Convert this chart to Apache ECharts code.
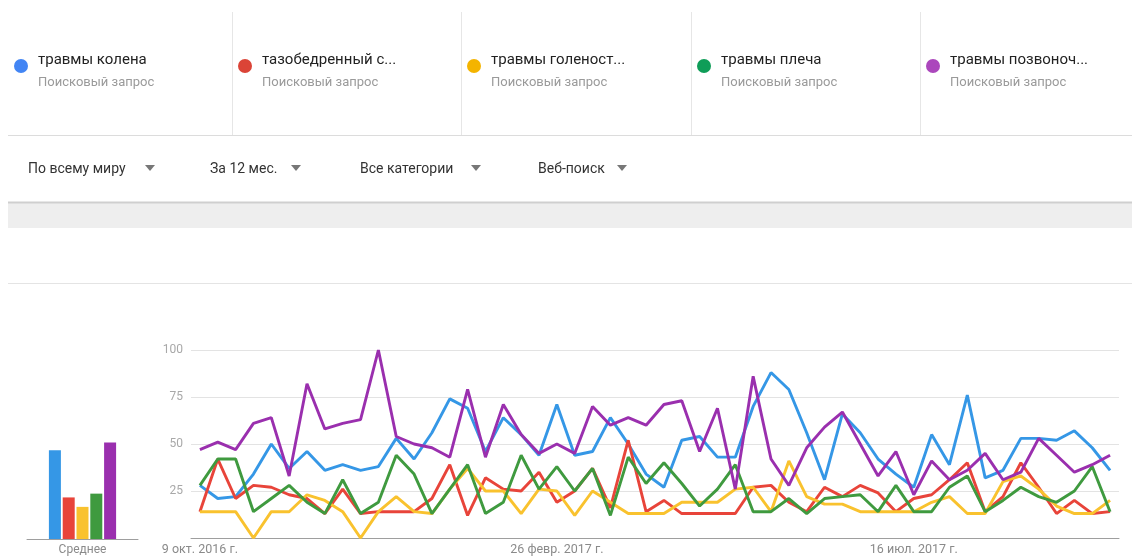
<!DOCTYPE html>
<html>
<head>
<meta charset="utf-8">
<script src="https://cdn.jsdelivr.net/npm/echarts@6/dist/echarts.min.js"></script>
<style>
html,body{margin:0;padding:0;background:#fff;}
#chart{width:1132px;height:556px;}
</style>
</head>
<body>
<div id="chart"></div>
<script>
// ---- data ----
var weeks = [
 "9 окт. 2016 г.","16 окт. 2016 г.","23 окт. 2016 г.","30 окт. 2016 г.",
 "6 нояб. 2016 г.","13 нояб. 2016 г.","20 нояб. 2016 г.","27 нояб. 2016 г.",
 "4 дек. 2016 г.","11 дек. 2016 г.","18 дек. 2016 г.","25 дек. 2016 г.",
 "1 янв. 2017 г.","8 янв. 2017 г.","15 янв. 2017 г.","22 янв. 2017 г.","29 янв. 2017 г.",
 "5 февр. 2017 г.","12 февр. 2017 г.","19 февр. 2017 г.","26 февр. 2017 г.",
 "5 мар. 2017 г.","12 мар. 2017 г.","19 мар. 2017 г.","26 мар. 2017 г.",
 "2 апр. 2017 г.","9 апр. 2017 г.","16 апр. 2017 г.","23 апр. 2017 г.","30 апр. 2017 г.",
 "7 мая 2017 г.","14 мая 2017 г.","21 мая 2017 г.","28 мая 2017 г.",
 "4 июн. 2017 г.","11 июн. 2017 г.","18 июн. 2017 г.","25 июн. 2017 г.",
 "2 июл. 2017 г.","9 июл. 2017 г.","16 июл. 2017 г.","23 июл. 2017 г.","30 июл. 2017 г.",
 "6 авг. 2017 г.","13 авг. 2017 г.","20 авг. 2017 г.","27 авг. 2017 г.",
 "3 сент. 2017 г.","10 сент. 2017 г.","17 сент. 2017 г.","24 сент. 2017 г.","1 окт. 2017 г."
];
var termNames = ["травмы колена","тазобедренный с...","травмы голеност...","травмы плеча","травмы позвоноч..."];
var subLabel = "Поисковый запрос";
var filters = ["По всему миру","За 12 мес.","Все категории","Веб-поиск"];
var yTicks = [0,25,50,75,100];
var avgLabel = "Среднее";

var knee =     [28,21,22,34,50,37,46,36,39,36,38,53,42,56,74,69,46,64,55,44,71,44,46,64,50,34,27,52,54,43,43,70,88,79,56,31,66,56,42,34,27,55,39,76,32,36,53,53,52,57,48,36];
var hip =      [14,42,21,28,27,23,21,13,26,13,14,14,14,21,39,12,32,26,25,35,19,25,37,16,52,14,20,13,13,13,13,27,28,19,14,27,22,28,24,14,21,23,31,40,14,22,40,27,13,20,13,14];
var ankle =    [14,14,14,0,14,14,23,20,14,0,14,22,14,13,26,37,25,25,13,26,25,12,25,19,13,13,13,19,19,19,26,27,14,41,22,18,18,14,14,14,14,19,22,13,13,30,33,26,17,13,13,20];
var shoulder = [28,42,42,14,21,28,19,13,31,13,19,44,34,13,26,39,13,19,44,26,38,25,37,12,43,29,40,29,17,26,39,14,14,21,13,21,22,23,14,28,14,14,27,33,14,20,27,22,19,25,38,14];
var spine =    [47,51,47,61,64,33,82,58,61,63,100,54,50,48,43,79,43,71,55,45,50,45,70,60,64,60,71,73,46,69,26,86,42,28,48,59,67,50,33,46,23,41,31,36,45,31,35,53,44,35,39,44];
var averages = [47,22,17,24,51];

// ---- styles ----
var lineColors = ["#3597e6","#e8443a","#f9c22e","#3f9a3f","#9a2fae"];
var dotColors  = ["#4285f4","#db4437","#f4b400","#0f9d58","#ab47bc"];
var seriesData = [knee, hip, ankle, shoulder, spine];

var chart = echarts.init(document.getElementById('chart'), null, {renderer:'canvas'});

var graphics = [];
var cardX = [8,232,461,691,920];
for (var k=0;k<5;k++){
  var bx = cardX[k];
  graphics.push({type:'circle', shape:{cx:bx+13, cy:66, r:7}, style:{fill:dotColors[k]}, silent:true});
  graphics.push({type:'text', x:bx+30, y:60, style:{text:termNames[k], fill:'#222', font:'15px Roboto, "Noto Sans", sans-serif', verticalAlign:'middle'}, silent:true});
  graphics.push({type:'text', x:bx+30, y:83, style:{text:subLabel, fill:'#9a9a9a', font:'13px Roboto, "Noto Sans", sans-serif', verticalAlign:'middle'}, silent:true});
  if (k>0) graphics.push({type:'line', shape:{x1:bx+0.5,y1:12,x2:bx+0.5,y2:135}, style:{stroke:'#e6e6e6', lineWidth:1}, silent:true});
}
graphics.push({type:'line', shape:{x1:8,y1:135.5,x2:1132,y2:135.5}, style:{stroke:'#dcdcdc', lineWidth:1}, silent:true});
var fX = [28,210,360,538];
var arrowX = [150,296,476,622];
for (var f=0; f<4; f++){
  graphics.push({type:'text', x:fX[f], y:169, style:{text:filters[f], fill:'#333', font:'14px Roboto, "Noto Sans", sans-serif', verticalAlign:'middle'}, silent:true});
  graphics.push({type:'polygon', shape:{points:[[arrowX[f]-5,165],[arrowX[f]+5,165],[arrowX[f],171]]}, style:{fill:'#777'}, silent:true});
}
graphics.push({type:'rect', shape:{x:8,y:202,width:1124,height:26}, style:{fill:'#eeeeee'}, silent:true});
graphics.push({type:'line', shape:{x1:8,y1:202.5,x2:1132,y2:202.5}, style:{stroke:'#cfcfcf', lineWidth:2}, silent:true});
graphics.push({type:'line', shape:{x1:8,y1:283.5,x2:1132,y2:283.5}, style:{stroke:'#e4e4e4', lineWidth:1}, silent:true});

var series = [];
for (var s=0;s<5;s++){
  series.push({
    name: termNames[s], type:'line', data: seriesData[s], xAxisIndex:0, yAxisIndex:0,
    showSymbol:false, symbol:'none', lineStyle:{width:2.9, color:lineColors[s]},
    itemStyle:{color:lineColors[s]}, z:2+s
  });
}
for (var b=0;b<5;b++){
  series.push({
    name: termNames[b]+' ', type:'bar', data:[averages[b]], xAxisIndex:1, yAxisIndex:1,
    barWidth:12, barGap:'15%', itemStyle:{color:lineColors[b]}
  });
}

chart.setOption({
  animation:false,
  backgroundColor:'#ffffff',
  graphic: graphics,
  grid:[
    {left:191, right:13, top:350, bottom:17, containLabel:false},
    {left:27, width:111, top:350, bottom:17, containLabel:false}
  ],
  xAxis:[
    {type:'category', gridIndex:0, data:weeks, boundaryGap:true,
     axisLine:{lineStyle:{color:'#9e9e9e', width:1}}, axisTick:{show:false},
     axisLabel:{interval:function(i){return i%20===0;}, color:'#8a8a8a', fontSize:12.5, fontFamily:'Roboto', margin:5}},
    {type:'category', gridIndex:1, data:[avgLabel],
     axisLine:{lineStyle:{color:'#9e9e9e', width:1}}, axisTick:{show:false},
     axisLabel:{color:'#8a8a8a', fontSize:12, fontFamily:'Roboto', margin:5}}
  ],
  yAxis:[
    {type:'value', gridIndex:0, min:yTicks[0], max:yTicks[yTicks.length-1], interval:yTicks[1]-yTicks[0],
     axisLine:{show:false}, axisTick:{show:false},
     axisLabel:{showMinLabel:false, color:'#a8a8a8', fontSize:12, fontFamily:'Roboto', margin:8},
     splitLine:{lineStyle:{color:'#e3e3e3', width:1}}},
    {type:'value', gridIndex:1, min:0, max:100, show:false, splitLine:{show:false}}
  ],
  series: series
});
</script>
</body>
</html>
